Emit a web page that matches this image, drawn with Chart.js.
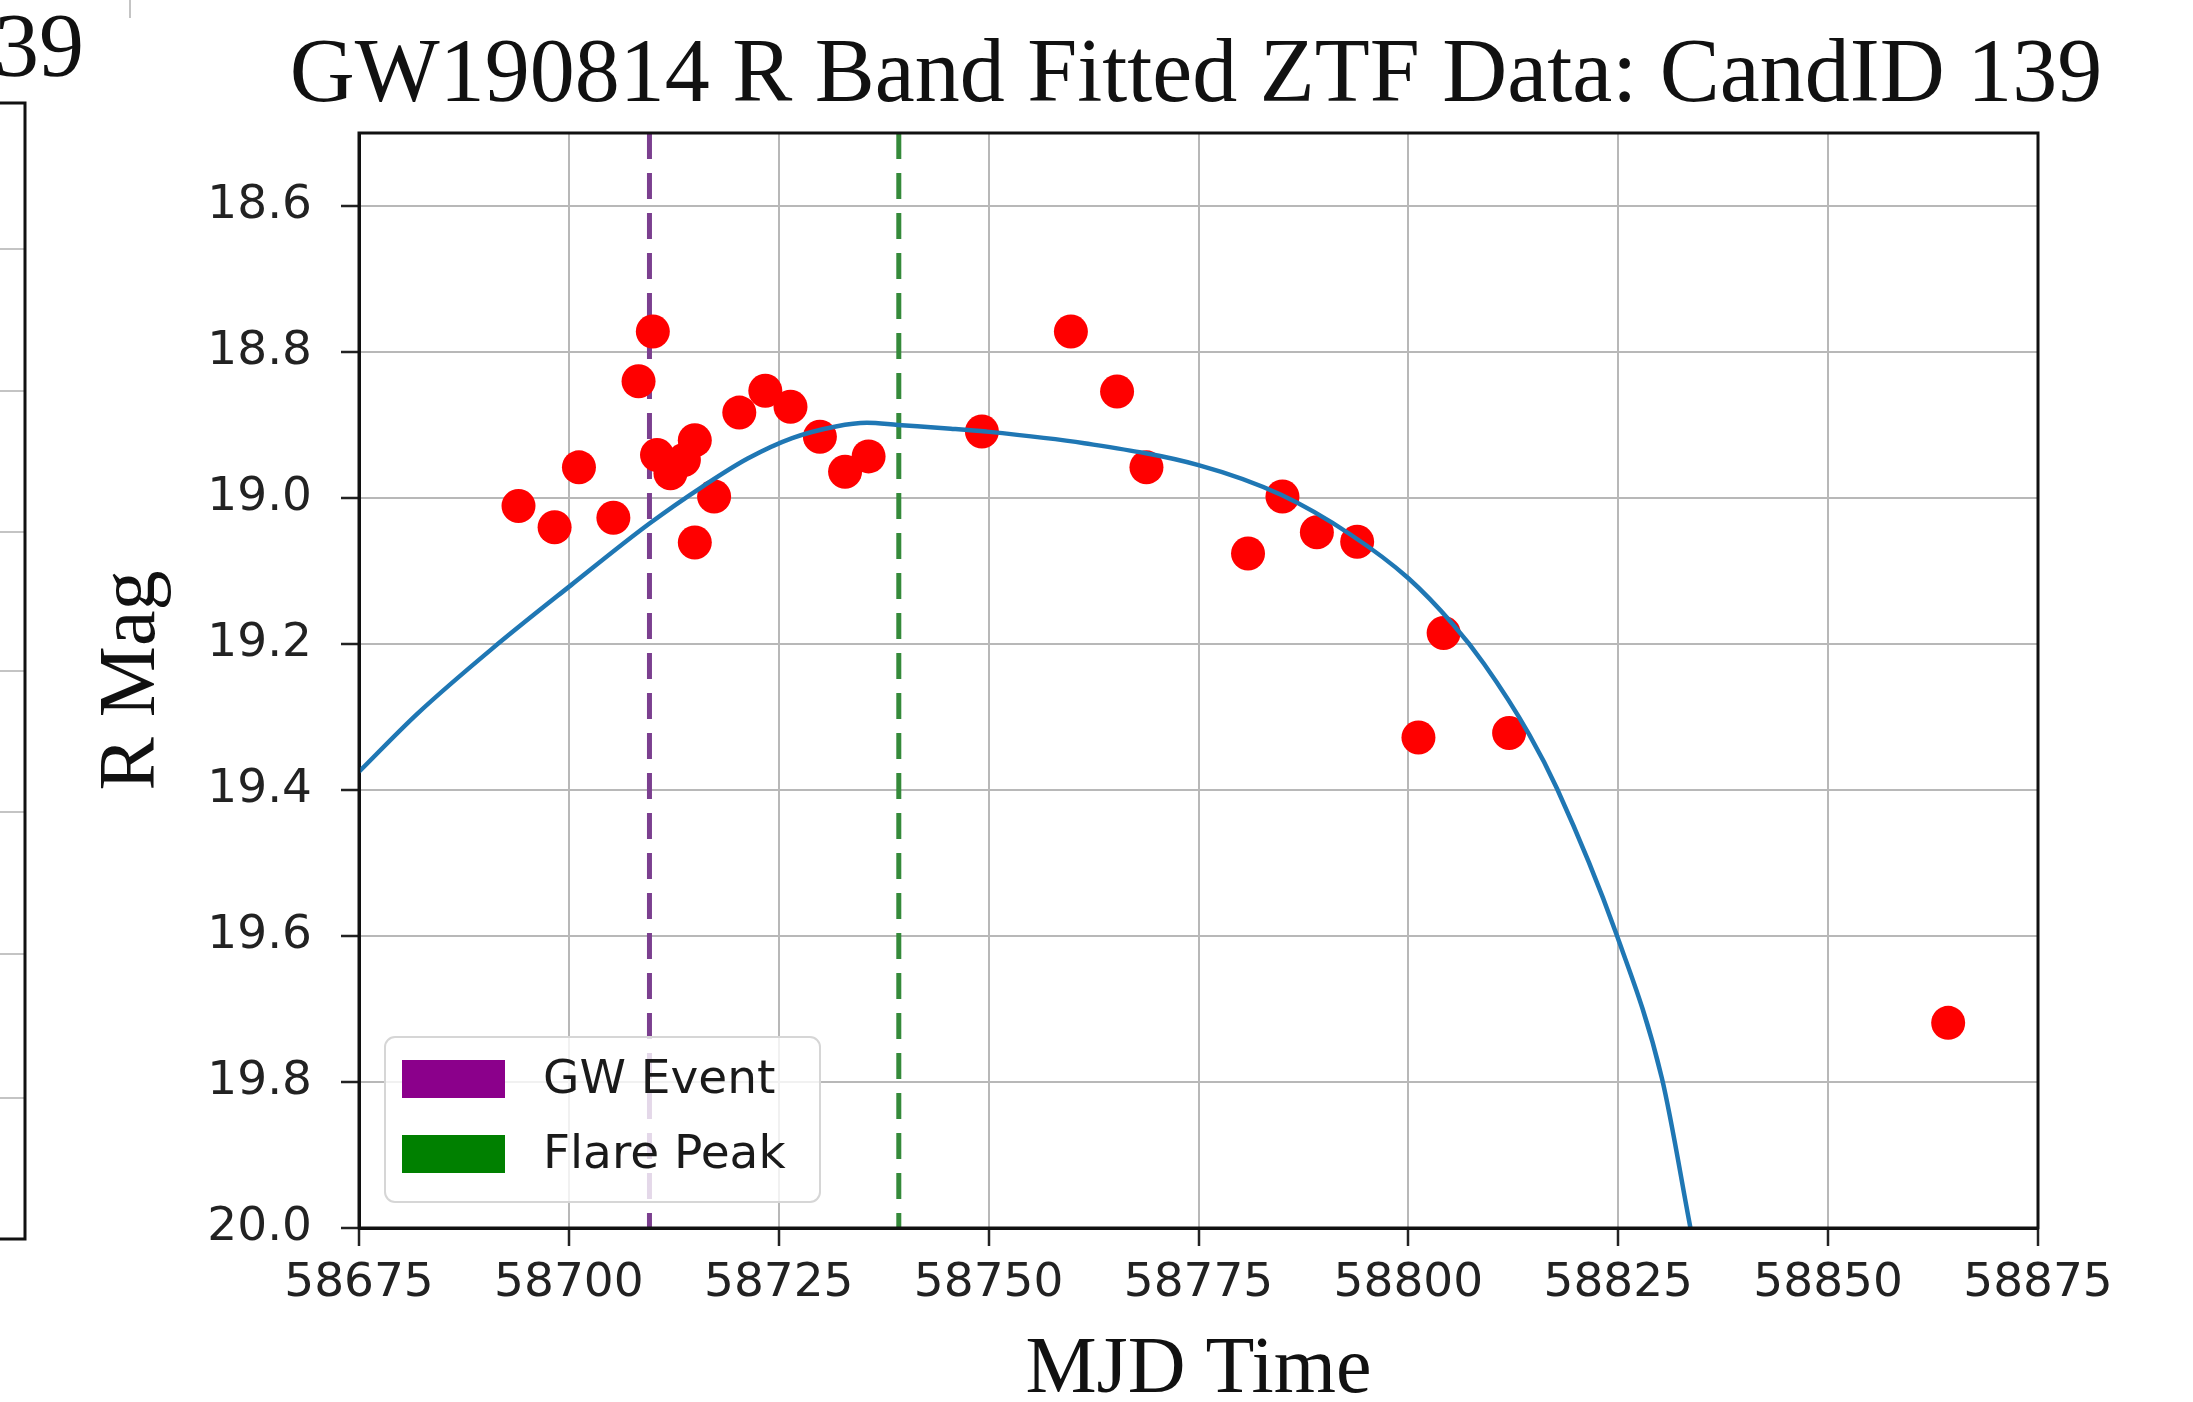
<!DOCTYPE html>
<html>
<head>
<meta charset="utf-8">
<title>GW190814 R Band Fitted ZTF Data: CandID 139</title>
<script src="https://cdn.jsdelivr.net/npm/chart.js@4"></script>
<style>
  html, body { margin: 0; padding: 0; background: #fff; }
  canvas { display: block; }
</style>
</head>
<body>
<canvas id="chart" width="2193" height="1402"></canvas>
<script>
// observed ZTF r-band points
const obsMjd = [58694.0, 58698.3, 58701.2, 58705.3, 58708.3, 58710.0, 58710.5, 58712.1, 58713.7, 58715.0,
  58715.0, 58717.3, 58720.3, 58723.4, 58726.4, 58729.9, 58732.9, 58735.7, 58749.2, 58759.8,
  58765.3, 58768.8, 58780.9, 58785.0, 58789.1, 58793.9, 58801.2, 58804.2, 58812.0, 58864.3];
const obsMag = [19.011, 19.040, 18.958, 19.027, 18.840, 18.772, 18.941, 18.966, 18.948, 18.921,
  19.061, 18.998, 18.883, 18.853, 18.875, 18.916, 18.964, 18.943, 18.909, 18.772,
  18.854, 18.958, 19.076, 18.998, 19.047, 19.060, 19.328, 19.185, 19.322, 19.719];

// fitted curve
const fitMjd = [58675, 58682, 58690.8, 58700.3, 58709.6, 58716.1, 58721.3, 58726.6, 58731.8, 58735.5,
  58739.2, 58745.5, 58749.7, 58761.4, 58775, 58784.9, 58793.1, 58800, 58805.3, 58809,
  58814.4, 58817.7, 58824.7, 58830.2, 58833.6];
const fitMag = [19.375, 19.295, 19.207, 19.119, 19.035, 18.983, 18.946, 18.918, 18.902, 18.897,
  18.900, 18.905, 18.909, 18.925, 18.955, 18.996, 19.050, 19.110, 19.173, 19.227,
  19.324, 19.398, 19.595, 19.795, 20.000];

// vertical markers
const gwMjd = 58709.6;
const flareMjd = 58739.3;

const xTicks = [58675, 58700, 58725, 58750, 58775, 58800, 58825, 58850, 58875];
const yTicks = [18.6, 18.8, 19.0, 19.2, 19.4, 19.6, 19.8, 20.0];
const xRange = [58675, 58875];
const yRange = [18.5, 20.0];

const titleText = 'GW190814 R Band Fitted ZTF Data: CandID 139';

const sans = "'DejaVu Sans', 'Liberation Sans', sans-serif";
const serif = "'Liberation Serif', 'DejaVu Serif', serif";

const pts = (xs, ys) => xs.map((x, i) => ({x: x, y: ys[i]}));
const vline = x => [{x: x, y: yRange[0]}, {x: x, y: yRange[1]}];

// title, frame, legend and the cropped neighbour panel on the left edge
const extras = {
  id: 'extras',
  beforeDraw(chart) {
    const ctx = chart.ctx;
    ctx.save();
    // bit of the neighbouring panel
    ctx.strokeStyle = '#c4c4c4';
    ctx.lineWidth = 2;
    [249, 391, 532, 671, 812, 954, 1098].forEach(y => {
      ctx.beginPath(); ctx.moveTo(0, y); ctx.lineTo(24, y); ctx.stroke();
    });
    ctx.beginPath(); ctx.moveTo(130, 0); ctx.lineTo(130, 18); ctx.stroke();
    ctx.strokeStyle = '#111';
    ctx.lineWidth = 3;
    ctx.beginPath();
    ctx.moveTo(0, 103); ctx.lineTo(25, 103); ctx.lineTo(25, 1239); ctx.lineTo(0, 1239);
    ctx.stroke();
    ctx.fillStyle = '#111';
    ctx.font = '90px ' + serif;
    ctx.textAlign = 'right';
    ctx.textBaseline = 'alphabetic';
    ctx.fillText('CandID 139', 84, 76);

    // title is a bit wider than the axes, so it is drawn here
    ctx.font = '90px ' + serif;
    ctx.textAlign = 'center';
    ctx.fillText(titleText, 1196, 101);
    ctx.restore();
  },
  afterDraw(chart) {
    const {ctx, chartArea: a} = chart;
    ctx.save();
    ctx.strokeStyle = '#111';
    ctx.lineWidth = 3;
    ctx.strokeRect(a.left, a.top, a.right - a.left, a.bottom - a.top);

    // legend box (lower left, inside axes)
    const items = chart.data.datasets.filter(d => d.inLegend);
    const bx = 385, by = 1037, bw = 435, bh = 165, r = 10;
    ctx.beginPath();
    ctx.roundRect(bx, by, bw, bh, r);
    ctx.fillStyle = 'rgba(255,255,255,0.8)';
    ctx.fill();
    ctx.strokeStyle = '#d6d6d6';
    ctx.lineWidth = 2;
    ctx.stroke();
    ctx.font = '47px ' + sans;
    ctx.textAlign = 'left';
    ctx.textBaseline = 'middle';
    items.forEach((d, i) => {
      const cy = 1079 + i * 75;
      ctx.fillStyle = d.legendColor;
      ctx.fillRect(402, cy - 19, 103, 38);
      ctx.fillStyle = '#1a1a1a';
      ctx.fillText(d.label, 543, cy + 2);
    });
    ctx.restore();
  }
};

new Chart(document.getElementById('chart'), {
  type: 'scatter',
  data: {
    datasets: [
      {
        label: 'Fit',
        type: 'line',
        data: pts(fitMjd, fitMag),
        borderColor: '#1f77b4',
        borderWidth: 4.5,
        pointRadius: 0,
        cubicInterpolationMode: 'monotone',
        fill: false,
        order: 0
      },
      {
        label: 'ZTF r',
        data: pts(obsMjd, obsMag),
        backgroundColor: '#ff0000',
        borderWidth: 0,
        pointRadius: 17,
        order: 1
      },
      {
        label: 'GW Event',
        type: 'line',
        data: vline(gwMjd),
        borderColor: '#7b3f8f',
        borderWidth: 5,
        borderDash: [26, 14],
        pointRadius: 0,
        inLegend: true,
        legendColor: '#8b008b',
        order: 2
      },
      {
        label: 'Flare Peak',
        type: 'line',
        data: vline(flareMjd),
        borderColor: '#358a3a',
        borderWidth: 5,
        borderDash: [26, 14],
        pointRadius: 0,
        inLegend: true,
        legendColor: '#008000',
        order: 2
      }
    ]
  },
  options: {
    responsive: false,
    animation: false,
    events: [],
    layout: { padding: { left: 0, right: 155, top: 133, bottom: 0 } },
    plugins: {
      legend: { display: false },
      tooltip: { enabled: false },
      title: { display: false }
    },
    scales: {
      x: {
        type: 'linear',
        min: xRange[0],
        max: xRange[1],
        afterBuildTicks: s => { s.ticks = xTicks.map(v => ({value: v})); },
        afterFit: s => { s.height = 174; },
        ticks: {
          color: '#222',
          font: { family: sans, size: 47 },
          padding: 10,
          maxRotation: 0,
          autoSkip: false,
          callback: v => String(v)
        },
        grid: { color: '#b8b8b8', lineWidth: 2, tickLength: 18, tickColor: '#222', tickWidth: 2.5 },
        border: { color: '#111', width: 3 },
        title: {
          display: true,
          text: 'MJD Time',
          color: '#111',
          font: { family: serif, size: 80, weight: 'normal', lineHeight: 0.75 },
          padding: { top: 0, bottom: 1 }
        }
      },
      y: {
        type: 'linear',
        reverse: true,
        min: yRange[0],
        max: yRange[1],
        afterBuildTicks: s => { s.ticks = yTicks.map(v => ({value: v})); },
        afterFit: s => { s.width = 359; },
        ticks: {
          color: '#222',
          font: { family: sans, size: 47 },
          padding: 29,
          autoSkip: false,
          callback: v => v.toFixed(1)
        },
        grid: { color: '#b8b8b8', lineWidth: 2, tickLength: 18, tickColor: '#222', tickWidth: 2.5 },
        border: { color: '#111', width: 3 },
        title: {
          display: true,
          text: 'R Mag',
          color: '#111',
          font: { family: serif, size: 80, weight: 'normal', lineHeight: 1 },
          padding: { top: 93, bottom: 0 }
        }
      }
    }
  },
  plugins: [extras]
});
</script>
</body>
</html>
